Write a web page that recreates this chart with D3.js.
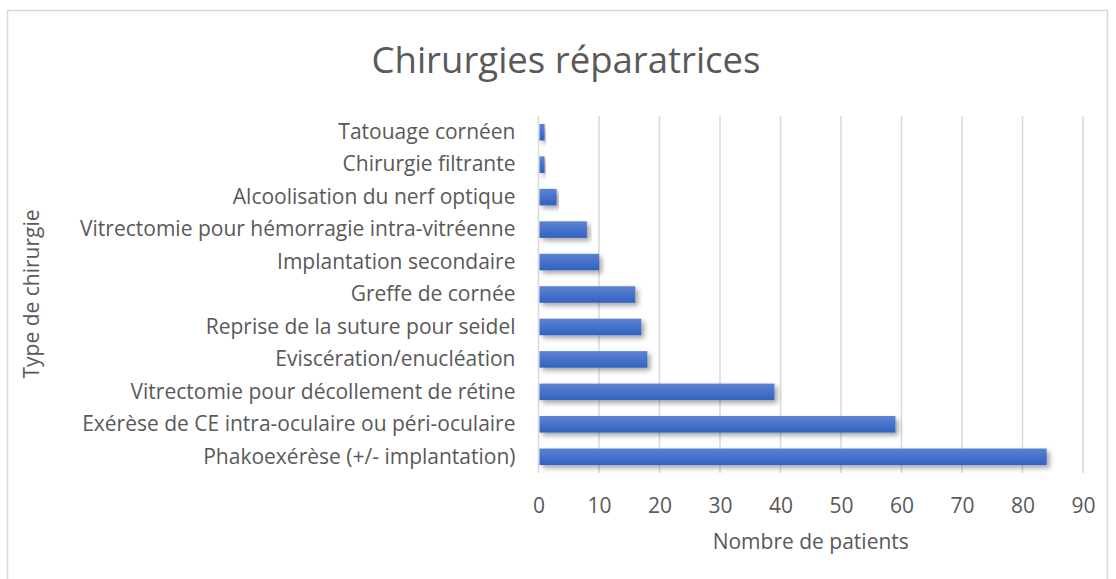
<!DOCTYPE html>
<html>
<head>
<meta charset="utf-8">
<script src="https://cdn.jsdelivr.net/npm/d3@7"></script>
<style>
  body { margin: 0; background: #fff; }
  svg text { font-family: "Open Sans", "Lato", sans-serif; fill: #595959; }
</style>
</head>
<body>
<svg width="1116" height="579"></svg>
<script>
// categories, top to bottom
var categories = [
    "Tatouage cornéen",
    "Chirurgie filtrante",
    "Alcoolisation du nerf optique",
    "Vitrectomie pour hémorragie intra-vitréenne",
    "Implantation secondaire",
    "Greffe de cornée",
    "Reprise de la suture pour seidel",
    "Eviscération/enucléation",
    "Vitrectomie pour décollement de rétine",
    "Exérèse de CE intra-oculaire ou péri-oculaire",
    "Phakoexérèse (+/- implantation)"
];
var patients = [1, 1, 3, 8, 10, 16, 17, 18, 39, 59, 84];
var ticks = [0, 10, 20, 30, 40, 50, 60, 70, 80, 90];

var chartTitle = "Chirurgies réparatrices";
var xTitle = "Nombre de patients";
var yTitle = "Type de chirurgie";

var svg = d3.select("svg");
var margin = { top: 116, left: 538.5, right: 33, bottom: 106 };
var width = 1116 - margin.left - margin.right,
    height = 579 - margin.top - margin.bottom;

// outer chart border
svg.append("rect")
    .attr("x", 7.5).attr("y", 10.5)
    .attr("width", 1100).attr("height", 580)
    .attr("fill", "none")
    .attr("stroke", "#d9d9d9")
    .attr("stroke-width", 1.5);

// gradient + shadow for bars
var defs = svg.append("defs");
var grad = defs.append("linearGradient")
    .attr("id", "barGrad")
    .attr("x1", 0).attr("y1", 0).attr("x2", 0).attr("y2", 1);
grad.append("stop").attr("offset", "0%").attr("stop-color", "#5d82d2");
grad.append("stop").attr("offset", "100%").attr("stop-color", "#3162c0");

var shadow = defs.append("filter").attr("id", "shadow")
    .attr("x", "-5%").attr("y", "-30%").attr("width", "115%").attr("height", "190%");
shadow.append("feDropShadow")
    .attr("dx", 3).attr("dy", 3)
    .attr("stdDeviation", 2.5)
    .attr("flood-color", "#000")
    .attr("flood-opacity", 0.35);

var g = svg.append("g").attr("transform", "translate(" + margin.left + "," + margin.top + ")");

var x = d3.scaleLinear().domain([0, 90]).range([0, width]);
var y = d3.scaleBand().domain(categories).range([0, height]).paddingInner(0.49).paddingOuter(0.245);

// gridlines
g.append("g")
    .selectAll("line")
    .data(ticks)
    .enter().append("line")
    .attr("x1", function (d) { return x(d); })
    .attr("x2", function (d) { return x(d); })
    .attr("y1", 0)
    .attr("y2", height)
    .attr("stroke", "#d9d9d9")
    .attr("stroke-width", 1.5);

// bars
g.append("g")
    .selectAll("rect")
    .data(categories)
    .enter().append("rect")
    .attr("x", x(0) + 1)
    .attr("y", function (d) { return y(d); })
    .attr("width", function (d, i) { return x(patients[i]) - x(0) - 1; })
    .attr("height", y.bandwidth())
    .attr("fill", "url(#barGrad)")
    .attr("filter", "url(#shadow)");

// x axis tick labels
var xAxis = g.append("g")
    .attr("transform", "translate(0," + height + ")")
    .call(d3.axisBottom(x).tickValues(ticks).tickSize(0).tickPadding(25));
xAxis.select(".domain").remove();
xAxis.selectAll("text")
    .attr("font-size", 21)
    .style("font-family", null);

// y axis category labels
var yAxis = g.append("g")
    .call(d3.axisLeft(y).tickSize(0).tickPadding(23));
yAxis.select(".domain").remove();
yAxis.selectAll("text")
    .attr("font-size", 21)
    .style("font-family", null);

// titles
svg.append("text")
    .attr("x", 566)
    .attr("y", 73)
    .attr("text-anchor", "middle")
    .attr("font-size", 36.5)
    .text(chartTitle);

svg.append("text")
    .attr("x", margin.left + width / 2)
    .attr("y", 549)
    .attr("text-anchor", "middle")
    .attr("font-size", 21)
    .text(xTitle);

svg.append("text")
    .attr("transform", "translate(39,294) rotate(-90)")
    .attr("text-anchor", "middle")
    .attr("font-size", 21)
    .text(yTitle);
</script>
</body>
</html>
